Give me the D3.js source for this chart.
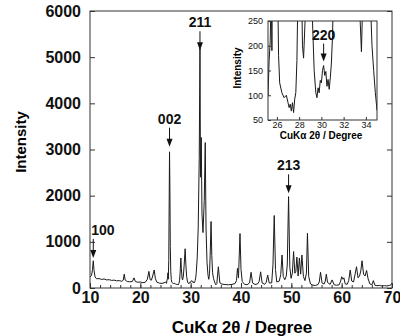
<!DOCTYPE html>
<html>
<head>
<meta charset="utf-8">
<script src="https://cdn.jsdelivr.net/npm/d3@7"></script>
<style>
  body { margin: 0; background: #fff; }
  text { font-family: "Liberation Sans", Arial, sans-serif; }
</style>
</head>
<body>
<div id="chart"></div>
<script>
/* XRD pattern: 2theta (deg) and intensity */
var twoTheta = [
  10.0, 10.3, 10.5, 10.65, 10.8, 11.0, 11.3, 11.8, 12.3, 12.8,
  13.3, 13.8, 14.3, 14.8, 15.3, 15.8, 16.3, 16.6, 16.8, 17.0,
  17.4, 17.9, 18.4, 18.75, 19.0, 19.5, 20.0, 20.5, 21.0, 21.4,
  21.7, 21.95, 22.2, 22.45, 22.75, 23.0, 23.3, 23.8, 24.3, 24.7,
  25.0, 25.2, 25.3, 25.4, 25.5, 25.55, 25.65, 25.8, 25.87, 25.95,
  26.05, 26.15, 26.25, 26.45, 26.65, 26.85, 27.0, 27.1, 27.2, 27.3,
  27.4, 27.5, 27.6, 27.7, 27.8, 27.9, 28.05, 28.15, 28.3, 28.4,
  28.55, 28.7, 28.9, 29.05, 29.2, 29.35, 29.5, 29.6, 29.7, 29.8,
  29.9, 30.0, 30.1, 30.2, 30.3, 30.4, 30.5, 30.6, 30.7, 30.8,
  30.9, 31.0, 31.1, 31.3, 31.5, 31.7, 31.85, 31.95, 32.1, 32.25,
  32.45, 32.7, 32.9, 33.05, 33.25, 33.45, 33.6, 33.75, 33.9, 34.05,
  34.2, 34.35, 34.55, 34.7, 34.85, 35.0, 35.2, 35.5, 35.8, 36.2,
  36.8, 37.5, 38.2, 38.8, 39.1, 39.3, 39.5, 39.8, 40.0, 40.25,
  40.7, 41.2, 41.7, 42.0, 42.3, 42.8, 43.3, 43.6, 43.9, 44.2,
  44.7, 45.0, 45.3, 45.6, 46.1, 46.35, 46.6, 46.85, 47.1, 47.6,
  47.9, 48.15, 48.4, 48.7, 49.0, 49.2, 49.45, 49.7, 49.95, 50.2,
  50.45, 50.7, 50.9, 51.1, 51.35, 51.6, 51.85, 52.1, 52.4, 52.7,
  53.0, 53.2, 53.45, 53.8, 54.3, 54.8, 55.3, 55.55, 55.8, 56.1,
  56.5, 56.75, 56.95, 57.2, 57.7, 58.1, 58.5, 59.0, 59.5, 59.8,
  60.0, 60.25, 60.45, 60.7, 61.1, 61.4, 61.7, 62.0, 62.35, 62.6,
  62.95, 63.25, 63.55, 63.8, 64.05, 64.35, 64.65, 64.95, 65.25, 65.6,
  66.0, 66.3, 66.6, 67.0, 67.5, 68.0, 68.5, 69.0, 69.5, 69.8, 70.0
];
var intensity = [
  240, 270, 400, 590, 380, 240, 200, 205, 185, 195,
  175, 180, 165, 170, 155, 160, 145, 170, 300, 170,
  140, 135, 140, 220, 140, 125, 130, 115, 125, 190,
  360, 180, 170, 260, 390, 200, 125, 105, 100, 110,
  130, 100, 170, 210, 330, 190, 600, 2950, 2200, 900,
  350, 180, 125, 105, 95, 100, 85, 75, 82, 68,
  85, 65, 92, 105, 170, 320, 650, 420, 200, 175,
  260, 480, 850, 500, 250, 150, 105, 95, 115, 105,
  130, 125, 150, 160, 140, 148, 118, 132, 112, 135,
  165, 220, 320, 650, 1300, 2800, 5200, 2400, 3260, 1600,
  1200, 1900, 3150, 1300, 550, 270, 188, 320, 800, 1440,
  700, 330, 200, 150, 105, 70, 95, 460, 110, 85,
  75, 70, 78, 95, 160, 425, 220, 1180, 400, 140,
  80, 70, 110, 340, 110, 75, 90, 140, 350, 110,
  80, 120, 280, 110, 110, 500, 1570, 400, 130, 150,
  290, 715, 250, 180, 260, 520, 1980, 450, 210, 320,
  790, 320, 360, 670, 260, 650, 300, 715, 250, 160,
  320, 1185, 250, 90, 60, 55, 75, 130, 340, 110,
  85, 150, 300, 120, 80, 175, 70, 60, 70, 150,
  245, 190, 220, 90, 80, 160, 390, 150, 130, 260,
  460, 220, 260, 370, 590, 300, 260, 380, 200, 90,
  70, 160, 60, 50, 55, 45, 50, 45, 55, 70, 110
];

/* axis ticks */
var xTicks = [10, 20, 30, 40, 50, 60, 70];
var xMinorTicks = d3.range(10, 71, 2);
var yTicks = [0, 1000, 2000, 3000, 4000, 5000, 6000];
var insetXTicks = [26, 28, 30, 32, 34];
var insetYTicks = [50, 100, 150, 200, 250];

/* reflection labels: name, 2theta, intensity at arrow tip */
var peakNames = ["100", "002", "211", "213"];
var peakPos = [10.65, 25.8, 31.85, 49.45];
var peakTip = [650, 3060, 5150, 2050];
var insetPeakName = "220";
var insetPeakPos = 30.2;
var insetPeakTip = 168;

var width = 400, height = 336;
var pattern = twoTheta.map(function(t, i) { return { t: t, v: intensity[i] }; });
var plain = d3.format("d");

var svg = d3.select("#chart").append("svg")
    .attr("width", width)
    .attr("height", height);

/* main scales */
var x = d3.scaleLinear().domain([10, 70]).range([90, 392]);
var y = d3.scaleLinear().domain([0, 6000]).range([288, 11]);

svg.append("clipPath").attr("id", "mainClip")
  .append("rect")
    .attr("x", 90).attr("y", 11)
    .attr("width", 302).attr("height", 277);

var line = d3.line()
    .x(function(d) { return x(d.t); })
    .y(function(d) { return y(d.v); });

svg.append("path")
    .datum(pattern)
    .attr("clip-path", "url(#mainClip)")
    .attr("fill", "none")
    .attr("stroke", "#1a1a1a")
    .attr("stroke-width", 1)
    .attr("d", line);

/* frame */
svg.append("rect")
    .attr("x", 90).attr("y", 11)
    .attr("width", 302).attr("height", 277)
    .attr("fill", "none")
    .attr("stroke", "#333")
    .attr("stroke-width", 1);

/* axes - ticks inward */
function styleAxis(g, size, weight) {
    g.select(".domain").remove();
    g.selectAll("line").attr("stroke", "#333");
    g.selectAll("text")
        .attr("fill", "#111")
        .style("font-size", size)
        .style("font-weight", weight)
        .style("font-family", "'Liberation Sans', Arial, sans-serif");
}

svg.append("g")
    .attr("transform", "translate(90,0)")
    .call(d3.axisLeft(y).tickValues(yTicks).tickFormat(plain).tickSizeInner(-5).tickSizeOuter(0).tickPadding(9))
    .call(styleAxis, "16px", "bold");

svg.append("g")
    .attr("transform", "translate(392,0)")
    .call(d3.axisRight(y).tickValues(yTicks).tickSizeInner(-5).tickSizeOuter(0).tickFormat(""))
    .call(styleAxis, "16px", "bold");

svg.append("g")
    .attr("transform", "translate(0,288)")
    .call(d3.axisBottom(x).tickValues(xMinorTicks).tickSizeInner(-3).tickSizeOuter(0).tickFormat(""))
    .call(styleAxis, "16px", "bold");

svg.append("g")
    .attr("transform", "translate(0,288)")
    .call(d3.axisBottom(x).tickValues(xTicks).tickFormat(plain).tickSizeInner(-5).tickSizeOuter(0).tickPadding(4))
    .call(styleAxis, "16px", "bold");

/* axis titles */
svg.append("text")
    .attr("transform", "translate(26,142) rotate(-90)")
    .attr("text-anchor", "middle")
    .style("font-size", "15px")
    .style("font-weight", "bold")
    .text("Intensity");

svg.append("text")
    .attr("x", 242).attr("y", 333)
    .attr("text-anchor", "middle")
    .style("font-size", "17px")
    .style("font-weight", "bold")
    .text("CuKα 2θ / Degree");

/* arrow markers for reflections */
function drawArrow(g, cx, tip, len) {
    g.append("line")
        .attr("x1", cx).attr("x2", cx)
        .attr("y1", tip - len).attr("y2", tip - 6)
        .attr("stroke", "#111")
        .attr("stroke-width", 1);
    g.append("path")
        .attr("d", "M" + (cx - 3) + "," + (tip - 8) + "L" + (cx + 3) + "," + (tip - 8) + "L" + cx + "," + tip + "Z")
        .attr("fill", "#111");
}

var ann = svg.append("g");
peakNames.forEach(function(name, i) {
    var cx = x(peakPos[i]);
    var tip = y(peakTip[i]);
    drawArrow(ann, cx, tip, 19);
    ann.append("text")
        .attr("x", i === 0 ? cx - 2 : cx)
        .attr("y", tip - 23)
        .attr("text-anchor", i === 0 ? "start" : "middle")
        .style("font-size", "14px")
        .style("font-weight", "bold")
        .attr("fill", "#111")
        .text(name);
});

/* inset */
var ix = d3.scaleLinear().domain([25.2, 35]).range([268, 377]);
var iy = d3.scaleLinear().domain([50, 250]).range([120, 21]);

var inset = svg.append("g");
inset.append("rect")
    .attr("x", 268).attr("y", 21)
    .attr("width", 109).attr("height", 99)
    .attr("fill", "#fff");

svg.append("clipPath").attr("id", "insetClip")
  .append("rect")
    .attr("x", 268).attr("y", 21)
    .attr("width", 109).attr("height", 99);

var insetLine = d3.line()
    .x(function(d) { return ix(d.t); })
    .y(function(d) { return iy(d.v); });

inset.append("path")
    .datum(pattern.filter(function(d) { return d.t >= 25 && d.t <= 35.2; }))
    .attr("clip-path", "url(#insetClip)")
    .attr("fill", "none")
    .attr("stroke", "#1a1a1a")
    .attr("stroke-width", 1)
    .attr("d", insetLine);

inset.append("rect")
    .attr("x", 268).attr("y", 21)
    .attr("width", 109).attr("height", 99)
    .attr("fill", "none")
    .attr("stroke", "#333")
    .attr("stroke-width", 1);

inset.append("g")
    .attr("transform", "translate(268,0)")
    .call(d3.axisLeft(iy).tickValues(insetYTicks).tickSizeInner(-3).tickSizeOuter(0).tickPadding(5))
    .call(styleAxis, "9px", "normal");

inset.append("g")
    .attr("transform", "translate(0,120)")
    .call(d3.axisBottom(ix).tickValues(insetXTicks).tickSizeInner(-3).tickSizeOuter(0).tickPadding(2))
    .call(styleAxis, "9px", "normal");

inset.append("text")
    .attr("transform", "translate(241,68) rotate(-90)")
    .attr("text-anchor", "middle")
    .style("font-size", "10px")
    .style("font-weight", "bold")
    .text("Intensity");

inset.append("text")
    .attr("x", 321).attr("y", 139)
    .attr("text-anchor", "middle")
    .style("font-size", "10px")
    .style("font-weight", "bold")
    .text("CuKα 2θ / Degree");

drawArrow(inset, ix(insetPeakPos), iy(insetPeakTip), 18);
inset.append("text")
    .attr("x", ix(insetPeakPos))
    .attr("y", iy(insetPeakTip) - 22)
    .attr("text-anchor", "middle")
    .style("font-size", "14px")
    .style("font-weight", "bold")
    .attr("fill", "#111")
    .text(insetPeakName);
</script>
</body>
</html>
